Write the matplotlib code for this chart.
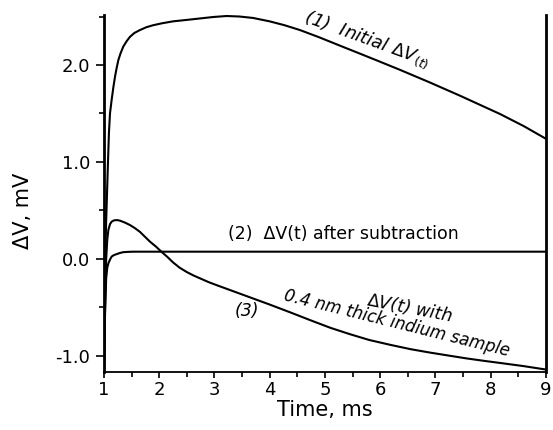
import matplotlib.pyplot as plt
from matplotlib.ticker import MultipleLocator

plt.rcParams["font.family"] = ["DejaVu Sans"]

# (1) initial signal
t1 = [1.0, 1.01, 1.02, 1.03, 1.04, 1.054, 1.07, 1.09, 1.109, 1.139,
      1.17, 1.2, 1.23, 1.26, 1.3, 1.35, 1.41, 1.47, 1.55, 1.65,
      1.77, 1.89, 2.05, 2.25, 2.5, 2.74, 2.98, 3.22, 3.45, 3.7,
      4.0, 4.27, 4.55, 4.9, 5.27, 5.6, 5.95, 6.36, 6.9, 7.44,
      8.17, 8.6, 9.0]
v1 = [-1.15, -0.7, -0.2, 0.15, 0.4, 0.65, 0.95, 1.3, 1.5, 1.64,
      1.77, 1.88, 1.97, 2.05, 2.12, 2.19, 2.245, 2.29, 2.33, 2.36,
      2.39, 2.41, 2.43, 2.45, 2.465, 2.48, 2.495, 2.505, 2.50, 2.485,
      2.45, 2.41, 2.36, 2.285, 2.2, 2.125, 2.045, 1.95, 1.82, 1.685,
      1.495, 1.37, 1.24]

# (2) after subtraction
t2 = [1.0, 1.02, 1.04, 1.06, 1.08, 1.11, 1.14, 1.18, 1.23, 1.29,
      1.35, 1.43, 1.53, 2.0, 9.0]
v2 = [-1.15, -0.55, -0.2, -0.09, -0.045, -0.005, 0.025, 0.04, 0.05, 0.062,
      0.07, 0.073, 0.075, 0.075, 0.075]

# (3) with 0.4 nm indium sample
t3 = [1.0, 1.02, 1.04, 1.06, 1.08, 1.11, 1.14, 1.17, 1.2, 1.25,
      1.29, 1.38, 1.47, 1.56, 1.65, 1.74, 1.83, 1.94, 2.04, 2.15,
      2.25, 2.37, 2.5, 2.62, 2.74, 2.9, 3.04, 3.28, 3.64, 4.0,
      4.37, 4.73, 5.1, 5.45, 5.8, 6.18, 6.55, 6.9, 7.25, 7.56,
      7.9, 8.17, 8.6, 9.0]
v3 = [-1.15, -0.5, 0.0, 0.2, 0.30, 0.36, 0.385, 0.395, 0.40, 0.40,
      0.395, 0.375, 0.35, 0.318, 0.28, 0.23, 0.18, 0.128, 0.075, 0.02,
      -0.035, -0.09, -0.135, -0.17, -0.2, -0.24, -0.27, -0.32, -0.395, -0.47,
      -0.55, -0.63, -0.71, -0.775, -0.835, -0.885, -0.93, -0.965, -0.997, -1.025,
      -1.052, -1.072, -1.105, -1.14]

x_ticks = [1, 2, 3, 4, 5, 6, 7, 8, 9]
y_ticks = [-1.0, 0.0, 1.0, 2.0]
y_labels = ["-1.0", "0.0", "1.0", "2.0"]

fig = plt.figure(figsize=(5.53, 4.30), dpi=100)
ax = fig.add_axes([0.188, 0.135, 0.799, 0.830])

for t, v in [(t1, v1), (t2, v2), (t3, v3)]:
    ax.plot(t, v, color="black", lw=1.5, solid_joinstyle="round")

ax.set_xlim(1, 9)
ax.set_ylim(-1.165, 2.515)

ax.set_xticks(x_ticks)
ax.set_yticks(y_ticks)
ax.set_yticklabels(y_labels)
ax.xaxis.set_minor_locator(MultipleLocator(0.5))
ax.yaxis.set_minor_locator(MultipleLocator(0.5))
ax.tick_params(axis="y", which="major", direction="out", length=6,
               width=1.2, labelsize=13, pad=4)
ax.tick_params(axis="x", which="major", direction="out", length=4.5,
               width=1.2, labelsize=13, pad=2)
ax.tick_params(axis="both", which="minor", direction="out", length=3.5,
               width=1.2)

ax.spines["top"].set_visible(False)
ax.spines["left"].set_linewidth(2.0)
ax.spines["right"].set_linewidth(2.0)
ax.spines["bottom"].set_linewidth(1.3)

ax.set_xlabel("Time, ms", fontsize=15, va="center")
ax.xaxis.set_label_coords(0.5, -0.106)
ax.set_ylabel("ΔV, mV", fontsize=15, va="center")
ax.yaxis.set_label_coords(-0.183, 0.451)

# Curve labels
ax.text(5.76, 2.26, r"(1)  Initial $\Delta V_{(t)}$", fontsize=13,
        style="italic", rotation=-20, ha="center", va="center")
ax.text(5.34, 0.26, "(2)  ΔV(t) after subtraction", fontsize=12.5,
        ha="center", va="center")
ax.text(3.59, -0.54, "(3)", fontsize=12.5, style="italic",
        ha="center", va="center")
ax.text(6.54, -0.50, r"$\Delta V$(t) with", fontsize=12.5, style="italic",
        rotation=-11, ha="center", va="center")
ax.text(6.30, -0.66, "0.4 nm thick indium sample", fontsize=12,
        style="italic", rotation=-14, ha="center", va="center")

fig.savefig("out.png", dpi=100)
